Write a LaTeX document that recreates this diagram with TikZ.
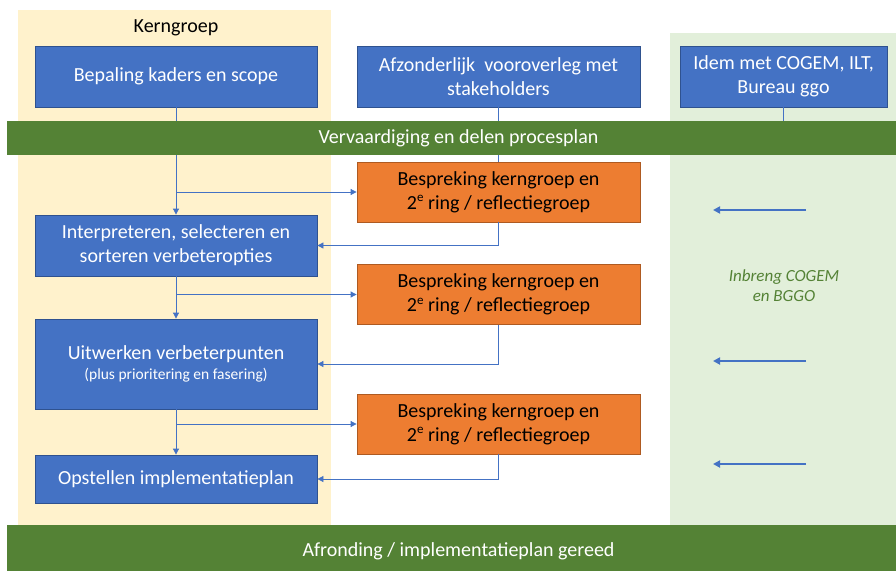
\documentclass[tikz,border=0pt]{standalone}
\usepackage{fontspec}
\setmainfont{Carlito}
\usetikzlibrary{arrows.meta}
\definecolor{boxblue}{HTML}{4472C4}
\definecolor{boxblueborder}{HTML}{2F528F}
\definecolor{boxorange}{HTML}{ED7D31}
\definecolor{boxorangeborder}{HTML}{AE5A21}
\definecolor{bandgreen}{HTML}{548235}
\definecolor{bgyellow}{HTML}{FFF2CC}
\definecolor{bggreen}{HTML}{E2EFDA}
\definecolor{linkblue}{HTML}{4472C4}
\newcommand{\supe}{\raisebox{0.38em}{\fontsize{13}{13}\selectfont e}}
\tikzset{
  txt/.style={font=\fontsize{20}{24}\selectfont, align=center},
  bluebox/.style={txt, fill=boxblue, draw=boxblueborder, line width=0.8pt, text=white, inner sep=0pt, minimum width=282pt},
  orangebox/.style={txt, fill=boxorange, draw=boxorangeborder, line width=0.8pt, text=black, inner sep=0pt, minimum width=283pt, minimum height=60pt},
  band/.style={txt, fill=bandgreen, text=white, inner sep=0pt, minimum width=903pt},
  link/.style={draw=linkblue, line width=0.8pt},
  linkarrow/.style={link, -{Triangle[length=6pt,width=6pt]}},
  inputarrow/.style={draw=linkblue, line width=1.8pt, -{Triangle[length=7pt,width=7pt]}},
}
\begin{document}
\begin{tikzpicture}[x=1pt,y=-1pt]
\useasboundingbox (0,0) rectangle (896,570);
% backgrounds
\fill[bgyellow] (18,10) rectangle (331,525);
\fill[bggreen] (670,33) rectangle (896,525);
\node[txt] (kern) at (176,28) {Kerngroep};
% boxes
\node[bluebox, minimum height=61pt] (b1) at (176,76.5) {Bepaling kaders en scope};
\node[bluebox, minimum width=283pt, minimum height=61pt] (az) at (498.5,76.5) {Afzonderlijk\ \ vooroverleg met\\stakeholders};
\node[bluebox, minimum width=207pt, minimum height=61pt] (idem) at (783.5,76.5) {Idem met COGEM, ILT,\\Bureau ggo};
\node[orangebox] (o1) at (498.5,192) {Bespreking kerngroep en\\2\supe{} ring / reflectiegroep};
\node[orangebox] (o2) at (498.5,294.5) {Bespreking kerngroep en\\2\supe{} ring / reflectiegroep};
\node[orangebox] (o3) at (498.5,424) {Bespreking kerngroep en\\2\supe{} ring / reflectiegroep};
\node[bluebox, minimum height=61pt] (i1) at (176,245.5) {Interpreteren, selecteren en\\sorteren verbeteropties};
\node[bluebox, minimum height=90pt] (u1) at (176,364) {\rule{0pt}{8pt}Uitwerken verbeterpunten\\[-4pt]{\fontsize{15.5}{18}\selectfont (plus prioritering en fasering)}};
\node[bluebox, minimum height=48pt] (p1) at (176,479) {Opstellen implementatieplan};
% connectors
\draw[linkarrow] (b1.south) -- (i1.north);
\draw[linkarrow] (b1.south |- o1.west) -- (o1.west);
\draw[linkarrow] (o1.south) |- (i1.east);
\draw[linkarrow] (i1.south) -- (u1.north);
\draw[linkarrow] (i1.south |- o2.west) -- (o2.west);
\draw[linkarrow] (o2.south) |- (u1.east);
\draw[linkarrow] (u1.south) -- (p1.north);
\draw[linkarrow] (u1.south |- o3.west) -- (o3.west);
\draw[linkarrow] (o3.south) |- (p1.east);
\draw[link] (az.south) -- (o1.north);
\coordinate (idemend) at (783.5,125);
\draw[link] (idem.south) -- (idemend);
% bands
\node[band, minimum height=34pt] (band1) at (458.5,138) {Vervaardiging en delen procesplan};
\node[band, minimum height=52pt] (band2) at (458.5,551) {Afronding / implementatieplan gereed};
% inputs
\coordinate (r1s) at (806,210); \coordinate (r1e) at (713,210);
\coordinate (r2s) at (806,361); \coordinate (r2e) at (713,361);
\coordinate (r3s) at (806,464); \coordinate (r3e) at (713,464);
\draw[inputarrow] (r1s) -- (r1e);
\draw[inputarrow] (r2s) -- (r2e);
\draw[inputarrow] (r3s) -- (r3e);
\node[align=center, text=bandgreen, font=\fontsize{17}{20}\selectfont\itshape] (inbreng) at (784,286) {Inbreng COGEM\\en BGGO};
\end{tikzpicture}
\end{document}
